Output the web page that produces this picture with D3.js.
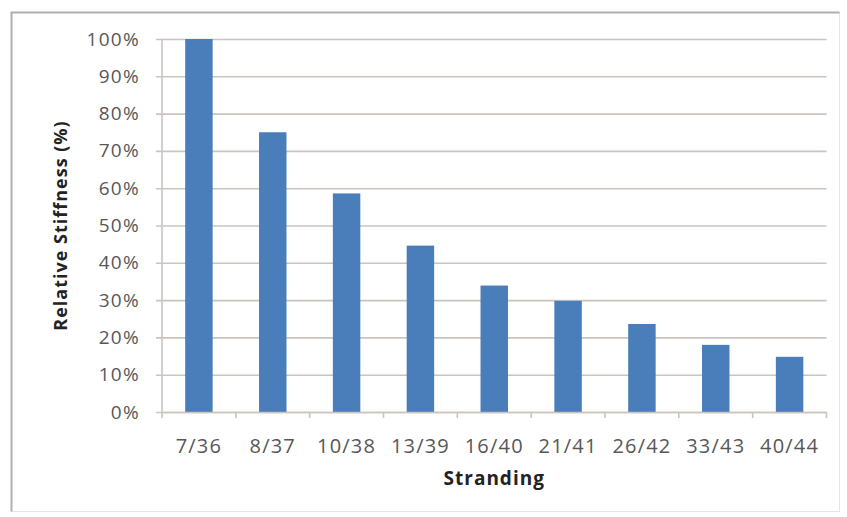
<!DOCTYPE html>
<html><head><meta charset="utf-8">
<script src="https://cdn.jsdelivr.net/npm/d3@7"></script>
<style>
html,body{margin:0;padding:0;background:#fff;}
svg{display:block;}
</style></head>
<body>
<svg id="chart" width="847" height="517"></svg>
<script>
const categories = ["7/36","8/37","10/38","13/39","16/40","21/41","26/42","33/43","40/44"];
const stiffness = [100, 75, 58.6, 44.6, 33.9, 29.8, 23.6, 18, 14.8];
const yTickValues = [0,10,20,30,40,50,60,70,80,90,100];
const xTitle = "Stranding";
const yTitle = "Relative Stiffness (%)";

const svg = d3.select("#chart");
const plot = {left:162, right:826.5, top:39, bottom:412};

// chart border
svg.append("rect").attr("x",11.5).attr("y",12.5).attr("width",828).attr("height",499)
  .attr("fill","#fff").attr("stroke","#e6e4e4").attr("stroke-width",1);
svg.append("path").attr("d","M11.5,511.5V12.5H839.5")
  .attr("fill","none").attr("stroke","#b4aeae").attr("stroke-width",2);

const x = d3.scaleBand().domain(categories).range([plot.left, plot.right])
  .paddingInner(0.628).paddingOuter(0.314);
const y = d3.scaleLinear().domain([0,100]).range([plot.bottom, plot.top]);

const gridColor = "#cbc3c0";
const textFont = "'Open Sans', 'Liberation Sans', sans-serif";

// gridlines + y ticks
const yAxis = d3.axisLeft(y).tickValues(yTickValues).tickFormat(d => d + "%")
  .tickSize(-(plot.right - plot.left)).tickPadding(18);
const gy = svg.append("g").attr("transform",`translate(${plot.left},0)`).call(yAxis);
gy.select(".domain").remove();
gy.selectAll(".tick line").attr("x1",-6).attr("stroke",gridColor).attr("stroke-width",1.6);
gy.selectAll(".tick text").attr("fill","#575757").style("font-family",textFont)
  .style("font-size","19px").style("letter-spacing","1.3px").attr("x",-22);

// y axis line
svg.append("line").attr("x1",plot.left).attr("x2",plot.left).attr("y1",plot.top).attr("y2",plot.bottom)
  .attr("stroke",gridColor).attr("stroke-width",1.6);

// bars
svg.append("g").selectAll("rect").data(categories).join("rect")
  .attr("x", d => x(d))
  .attr("y", (d,i) => y(stiffness[i]))
  .attr("width", x.bandwidth())
  .attr("height", (d,i) => y(0) - y(stiffness[i]))
  .attr("fill", "#4a7ebb");

// x axis
const xAxis = d3.axisBottom(x).tickSize(0).tickPadding(27);
const gx = svg.append("g").attr("transform",`translate(0,${plot.bottom})`).call(xAxis);
gx.select(".domain").attr("stroke",gridColor).attr("stroke-width",1.6);
gx.selectAll(".tick text").attr("fill","#575757").style("font-family",textFont)
  .style("font-size","20px").style("letter-spacing","1.2px");
// category boundary ticks
const bounds = d3.range(categories.length + 1).map(i => plot.left + i * x.step());
gx.selectAll("line.bound").data(bounds).join("line").attr("class","bound")
  .attr("x1", d => d).attr("x2", d => d).attr("y1",0).attr("y2",6)
  .attr("stroke",gridColor).attr("stroke-width",1.6);

// titles
svg.append("text").attr("x",(plot.left+plot.right)/2).attr("y",485)
  .attr("text-anchor","middle").style("font-family",textFont).style("font-weight","bold")
  .style("font-size","19px").style("letter-spacing","1px").attr("fill","#222").text(xTitle);
svg.append("text").attr("transform",`translate(67,${(plot.top+plot.bottom)/2}) rotate(-90)`)
  .attr("text-anchor","middle").style("font-family",textFont).style("font-weight","bold")
  .style("font-size","18px").style("letter-spacing","1px").attr("fill","#222").text(yTitle);
</script>
</body></html>
